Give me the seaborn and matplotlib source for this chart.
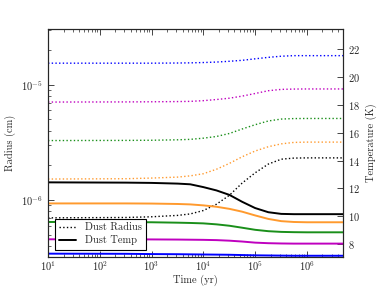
import numpy as np
import pandas as pd
import matplotlib
matplotlib.use("Agg")
import matplotlib.pyplot as plt
import seaborn as sns
from matplotlib.lines import Line2D

# time grid (yr)
time_yr = [1e1, 3.2e2, 1e3, 3.2e3, 5.6e3, 1e4, 1.8e4, 3.2e4, 5.6e4, 1e5,
           1.8e5, 3.2e5, 5.6e5, 1e6, 5e6]

# dust radius (cm), one per model
radius_blue = [1.54e-5, 1.54e-5, 1.54e-5, 1.545e-5, 1.55e-5, 1.56e-5, 1.575e-5, 1.60e-5,
               1.63e-5, 1.68e-5, 1.73e-5, 1.77e-5, 1.79e-5, 1.79e-5, 1.79e-5]
radius_magenta = [7.08e-6, 7.1e-6, 7.12e-6, 7.15e-6, 7.18e-6, 7.28e-6, 7.45e-6, 7.65e-6,
                  7.97e-6, 8.40e-6, 8.88e-6, 9.12e-6, 9.18e-6, 9.2e-6, 9.2e-6]
radius_green = [3.28e-6, 3.29e-6, 3.30e-6, 3.33e-6, 3.36e-6, 3.44e-6, 3.56e-6, 3.78e-6,
                4.13e-6, 4.50e-6, 4.85e-6, 5.04e-6, 5.09e-6, 5.1e-6, 5.1e-6]
radius_orange = [1.52e-6, 1.53e-6, 1.55e-6, 1.58e-6, 1.62e-6, 1.69e-6, 1.85e-6, 2.08e-6,
                 2.37e-6, 2.66e-6, 2.90e-6, 3.07e-6, 3.16e-6, 3.18e-6, 3.18e-6]
radius_black = [7.0e-7, 7.05e-7, 7.15e-7, 7.35e-7, 7.57e-7, 8.1e-7, 9.2e-7, 1.10e-6,
                1.40e-6, 1.72e-6, 2.05e-6, 2.26e-6, 2.31e-6, 2.32e-6, 2.32e-6]

# dust temperature (K)
temp_blue = [7.33, 7.32, 7.30, 7.29, 7.28, 7.27, 7.26, 7.25, 7.23, 7.21, 7.20, 7.19,
             7.18, 7.18, 7.18]
temp_magenta = [8.36, 8.36, 8.35, 8.34, 8.33, 8.32, 8.30, 8.26, 8.20, 8.12, 8.08, 8.06,
                8.05, 8.05, 8.05]
temp_green = [9.60, 9.59, 9.58, 9.55, 9.53, 9.50, 9.43, 9.33, 9.19, 9.04, 8.94, 8.89,
              8.87, 8.86, 8.86]
temp_orange = [10.93, 10.93, 10.92, 10.89, 10.86, 10.79, 10.69, 10.54, 10.34, 10.07,
               9.82, 9.66, 9.60, 9.58, 9.58]
temp_black = [12.44, 12.42, 12.40, 12.35, 12.30, 12.10, 11.86, 11.54, 11.05, 10.60,
              10.30, 10.18, 10.16, 10.16, 10.16]

colors = ["#0000ff", "#bf00bf", "#1a8f1a", "#ff9a2e", "black"]
radii = [radius_blue, radius_magenta, radius_green, radius_orange, radius_black]
temps = [temp_blue, temp_magenta, temp_green, temp_orange, temp_black]

sns.set_style("ticks")
plt.rcParams["font.family"] = ["cmr10", "DejaVu Serif"]
plt.rcParams["mathtext.fontset"] = "cm"
plt.rcParams["axes.formatter.use_mathtext"] = True
plt.rcParams["font.size"] = 7.5
plt.rcParams["axes.unicode_minus"] = False

fig = plt.figure(figsize=(3.82, 2.87), dpi=100)
ax = fig.add_axes([0.1257, 0.1045, 0.7723, 0.7945])
ax2 = ax.twinx()

for c, r in zip(colors, radii):
    sns.lineplot(x=time_yr, y=r, ax=ax, color=c, linestyle=":", linewidth=1.0)
for c, T in zip(colors, temps):
    sns.lineplot(x=time_yr, y=T, ax=ax2, color=c, linestyle="-", linewidth=1.4)

ax.set_xscale("log")
ax.set_yscale("log")
ax.set_xlim(1e1, 5e6)
ax.set_ylim(3.2e-7, 3.05e-5)
ax2.set_ylim(7.09, 23.43)
ax2.set_yticks([8, 10, 12, 14, 16, 18, 20, 22])

ax.set_xlabel("Time (yr)", fontsize=7.5, labelpad=1)
ax.set_ylabel("Radius (cm)", fontsize=7.5)
ax2.set_ylabel("Temperature (K)", fontsize=7.5)

ax.tick_params(which="both", direction="in", top=True, right=False, labelsize=7.5)
ax.tick_params(axis="x", pad=2)
ax.tick_params(which="major", length=4, width=0.6)
ax.tick_params(which="minor", length=2, width=0.5)
ax2.tick_params(which="both", direction="in", labelsize=7.5, length=4, width=0.6)
for a in (ax, ax2):
    for s in a.spines.values():
        s.set_linewidth(0.8)

handles = [Line2D([], [], color="black", linestyle=":", linewidth=1.0),
           Line2D([], [], color="black", linestyle="-", linewidth=1.4)]
leg = ax2.legend(handles, ["Dust Radius", "Dust Temp"], loc="lower left",
                 bbox_to_anchor=(0.005, 0.01), fancybox=False, framealpha=1,
                 edgecolor="black", fontsize=7.5, handlelength=1.6,
                 handletextpad=0.9, borderpad=0.4, labelspacing=0.3)
leg.get_frame().set_linewidth(0.8)

fig.savefig("out.png", dpi=100)
